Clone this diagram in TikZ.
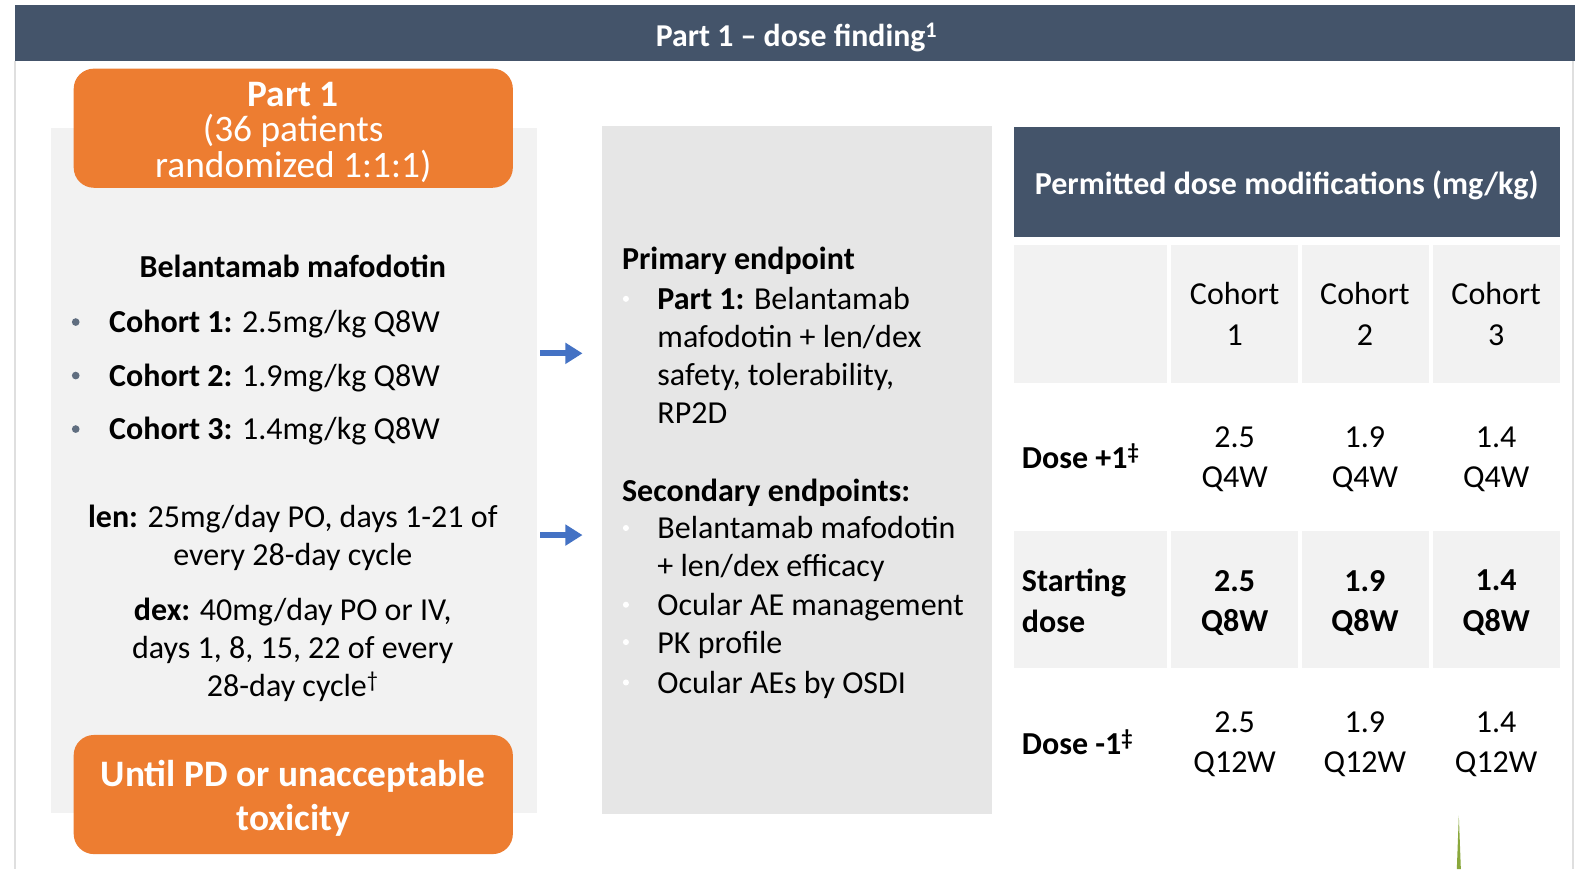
\documentclass[tikz,border=0pt]{standalone}
\usepackage{fontspec}
\setmainfont{Carlito}
\usetikzlibrary{arrows.meta,positioning}
\definecolor{slate}{HTML}{44546A}
\definecolor{orangebg}{HTML}{ED7D31}
\definecolor{arrowblue}{HTML}{4472C4}
\definecolor{panelgray}{HTML}{F2F2F2}
\definecolor{midgray}{HTML}{E6E6E6}
\definecolor{spikegreen}{HTML}{8AA83C}
\newcommand{\bodysize}{\fontsize{31.7}{37.5}\selectfont}
\tikzstyle{arrow} = [line width=6pt,-{Triangle[length=17pt,width=20pt]},arrowblue]

\begin{document}
\begin{tikzpicture}[x=1pt,y=-1pt]
\tikzstyle{txt} = [inner sep=0pt,font=\bodysize]
\tikzstyle{orangebox} = [fill=orangebg,rounded corners=20pt,minimum width=435pt,minimum height=118pt,inner sep=0pt]
\tikzstyle{boxtext} = [inner sep=0pt,text=white,align=center]
\tikzstyle{cell} = [txt,align=center,font=\fontsize{31.7}{40}\selectfont]

\fill[white] (0,0) rectangle (1568,861);
\useasboundingbox (0,0) rectangle (1568,861);
\draw[gray!25,line width=1.5pt] (15,60) -- (15,861);
\draw[gray!25,line width=1.5pt] (1558,60) -- (1558,861);
\fill[slate] (15,5) rectangle (1560,60);
\node[txt,text=white,font=\fontsize{31.5}{36}\selectfont\bfseries] (title) at (789,37) {Part 1 -- dose finding\textsuperscript{1}};

\fill[panelgray] (51,127) rectangle (532,805);
\node[orangebox] (part1) at (290.5,127) {};
\node[boxtext,font=\fontsize{37}{35}\selectfont] (part1text) at (290.5,131) {\textbf{Part 1}\\(36 patients\\randomized 1:1:1)};
\node[orangebox] (until) at (290.5,787) {};
\node[boxtext,font=\fontsize{37}{44}\selectfont\bfseries] (untiltext) at (290.5,790.5) {Until PD or unacceptable\\toxicity};

\node[txt,font=\bodysize\bfseries] (drug) at (290,264) {Belantamab mafodotin};
\foreach \i/\dose/\y in {1/2.5/319, 2/1.9/372, 3/1.4/425} {
  \fill[slate!85] (75,\y) circle (3.8);
  \node[txt,anchor=west] (cohort\i) at (108,\y+2) {\textbf{Cohort \i:} \dose mg/kg Q8W};
}
\node[txt,align=center] (len) at (290,533) {\textbf{len:} 25mg/day PO, days 1-21 of\\every 28-day cycle};
\node[txt,align=center] (dex) at (290,644) {\textbf{dex:} 40mg/day PO or IV,\\days 1, 8, 15, 22 of every\\28-day cycle\textsuperscript{\textdagger}};

\fill[midgray] (596,125) rectangle (983,806);
\node[txt,anchor=west,font=\bodysize\bfseries] (primary) at (616,258) {Primary endpoint};
\node[txt,anchor=west,align=left] (safety) at (651,352) {\textbf{Part 1:} Belantamab\\mafodotin + len/dex\\safety, tolerability,\\RP2D};
\node[txt,anchor=west,font=\bodysize\bfseries] (secondary) at (616,488) {Secondary endpoints:};
\node[txt,anchor=west,align=left] (efficacy) at (651,543.5) {Belantamab mafodotin\\+ len/dex efficacy};
\node[txt,anchor=west] (ocular) at (651,601) {Ocular AE management};
\node[txt,anchor=west] (pk) at (651,638.5) {PK profile};
\node[txt,anchor=west] (osdi) at (651,678) {Ocular AEs by OSDI};
\foreach \y in {296,523,599,636,676}
  \fill[white] (620,\y) circle (3);

\coordinate (arr1s) at (535,350);
\coordinate (arr1e) at (577,350);
\coordinate (arr2s) at (535,530);
\coordinate (arr2e) at (577,530);
\draw[arrow] (arr1s) -- (arr1e);
\draw[arrow] (arr2s) -- (arr2e);

\fill[slate] (1004,126) rectangle (1545,235);
\node[txt,text=white,font=\bodysize\bfseries] (permitted) at (1274.5,184) {Permitted dose modifications (mg/kg)};
\foreach \ya/\yb in {243/379, 526/662}
  \foreach \xa/\xb in {1004/1156, 1160/1286, 1290/1415, 1419/1545}
    \fill[panelgray] (\xa,\ya) rectangle (\xb,\yb);
\node[txt,anchor=west,font=\bodysize\bfseries] (doseup) at (1012,452) {Dose +1\textsuperscript{\textdaggerdbl}};
\node[txt,anchor=west,align=left,font=\fontsize{31.7}{40}\selectfont\bfseries] (startdose) at (1012,595) {Starting\\dose};
\node[txt,anchor=west,font=\bodysize\bfseries] (dosedown) at (1012,735) {Dose -1\textsuperscript{\textdaggerdbl}};
\foreach \c/\x/\a in {1/1223/2.5, 2/1352/1.9, 3/1482/1.4} {
  \node[cell] (coh\c) at (\x,311) {Cohort\\\c};
  \node[cell] (up\c) at (\x,455) {\a\\Q4W};
  \node[cell,font=\fontsize{31.7}{40}\selectfont\bfseries] (start\c) at (\x,597) {\a\\Q8W};
  \node[cell] (down\c) at (\x,737) {\a\\Q12W};
}

\fill[spikegreen] (1443,861) -- (1445,808) -- (1447,861) -- cycle;
\end{tikzpicture}
\end{document}
